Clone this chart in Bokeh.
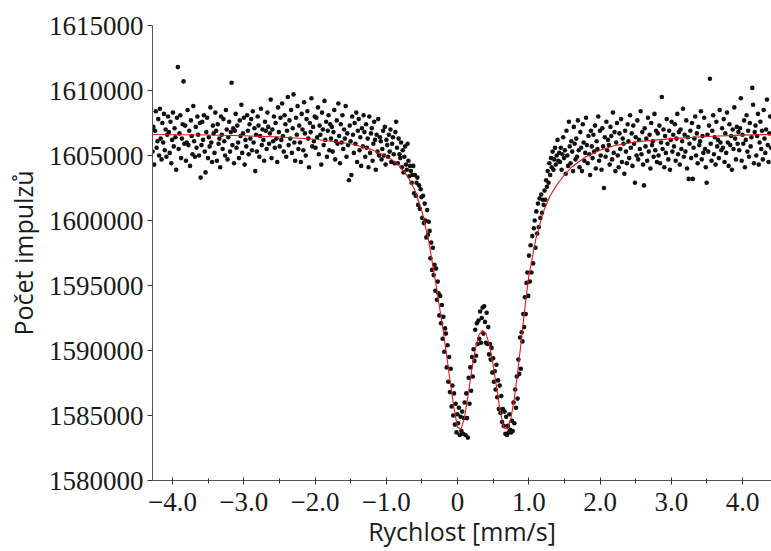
import numpy as np
from bokeh.plotting import figure
from bokeh.models import FixedTicker, Range1d
from bokeh.embed import file_html
from bokeh.resources import INLINE

# ---- data ----
velocity_first = -4.28
velocity_last = 4.40

counts = [
    1605300, 1607200, 1604300, 1606900, 1608400, 1605600, 1606100, 1607800, 1605000, 1608600, 1606300, 1604700, 1607500, 1606000, 1608200, 1605400, 1607000, 1604900, 1606600, 1608000,
    1606800, 1605200, 1607600, 1604400, 1606200, 1608300, 1605700, 1607100, 1606400, 1603900, 1607900, 1611800, 1605500, 1606700, 1608100, 1604800, 1606300, 1607400, 1610700, 1605900,
    1607300, 1604600, 1606000, 1608500, 1605800, 1606900, 1604200, 1607700, 1606500, 1605100, 1608800, 1606100, 1604900, 1607200, 1605600, 1608000, 1606600, 1605000, 1607500, 1603300,
    1605800, 1607600, 1606200, 1608100, 1605300, 1603700, 1606800, 1607900, 1604800, 1606400, 1605700, 1608700, 1606000, 1604500, 1607300, 1606700, 1605200, 1608300, 1606900, 1604600,
    1607400, 1605900, 1606300, 1604100, 1608000, 1606600, 1605500, 1607800, 1606100, 1605000, 1608500, 1607000, 1604700, 1606400, 1607600, 1605300, 1606800, 1610600, 1605800, 1607100,
    1604400, 1606900, 1608200, 1605600, 1607300, 1606000, 1604800, 1607700, 1606500, 1608900, 1605200, 1606700, 1607900, 1604300, 1606200, 1605700, 1608100, 1606900, 1605100, 1607400,
    1606300, 1607800, 1605400, 1608400, 1606000, 1607100, 1603800, 1606600, 1605300, 1608000, 1607300, 1604900, 1606500, 1608600, 1605800, 1607000, 1606200, 1604600, 1607600, 1606900,
    1605500, 1608300, 1607200, 1605900, 1606700, 1609300, 1604800, 1607000, 1606100, 1608000, 1605600, 1607500, 1606300, 1604500, 1608700, 1606800, 1605700, 1607900, 1606200, 1609000,
    1606500, 1605300, 1608100, 1607400, 1604900, 1606900, 1609500, 1605800, 1607700, 1606300, 1608500, 1605200, 1607100, 1609700, 1606000, 1604600, 1607900, 1606600, 1608800, 1605500,
    1607300, 1606000, 1604500, 1608200, 1607000, 1605400, 1609100, 1606700, 1605000, 1607800, 1608400, 1606300, 1604100, 1607500, 1606800, 1609400, 1605700, 1607200, 1606100, 1608000,
    1605600, 1607900, 1606400, 1608700, 1605100, 1607300, 1606600, 1604300, 1608300, 1607000, 1605800, 1609200, 1606200, 1607600, 1604900, 1606900, 1608100, 1605400, 1607400, 1606300,
    1607200, 1605300, 1606800, 1608500, 1604700, 1606100, 1607700, 1605900, 1609000, 1606500, 1604400, 1607400, 1606000, 1608100, 1605500, 1607000, 1606300, 1608800, 1604900, 1606700,
    1605800, 1603100, 1607300, 1606100, 1603500, 1608000, 1606600, 1605200, 1607500, 1605900, 1608300, 1604500, 1606900, 1607800, 1605400, 1606400, 1604200, 1607100, 1605700, 1608100,
    1606800, 1604900, 1607400, 1605600, 1606300, 1604100, 1608000, 1605200, 1606700, 1607100, 1604600, 1605900, 1607600, 1606200, 1603900, 1606600, 1605300, 1607800, 1605000, 1606400,
    1606100, 1604700, 1605500, 1606900, 1605000, 1607200, 1604300, 1606200, 1605800, 1604900, 1606600, 1605300, 1607000, 1604500, 1605900, 1606400, 1605100, 1604400, 1606800, 1607600,
    1605600, 1604400, 1606300, 1605100, 1604800, 1606000, 1604100, 1605400, 1603700, 1604900, 1605700, 1604300, 1603900, 1605900, 1604600, 1603400, 1604200, 1603800, 1602900, 1603500,
    1604200, 1602100, 1603500, 1601900, 1602900, 1603300, 1601200, 1602700, 1600900, 1602400, 1601800, 1600200, 1601900, 1599800, 1601300, 1600000, 1598700, 1600800, 1598900, 1599900,
    1599200, 1597100, 1598300, 1596200, 1597900, 1595800, 1596600, 1594600, 1596300, 1593900, 1595300, 1594400, 1592700, 1594200, 1592100, 1593500, 1590900, 1592600, 1589900, 1591700,
    1591300, 1588700, 1590400, 1587600, 1589500, 1586800, 1588600, 1585700, 1587300, 1585000, 1586700, 1584300, 1585900, 1583700, 1585100, 1584400, 1585600, 1583500, 1584900, 1583800,
    1585300, 1583600, 1584800, 1586000, 1583500, 1586700, 1584800, 1583300, 1587900, 1585900, 1588700, 1586900, 1589500, 1588000, 1590100, 1589200, 1591600, 1589600, 1592100, 1590500,
    1592300, 1590900, 1593000, 1590600, 1592500, 1593300, 1591300, 1593400, 1592200, 1590600, 1592900, 1590500, 1591800, 1589700, 1590500, 1589300, 1590200, 1588300, 1589400, 1587600,
    1588400, 1587000, 1588900, 1586400, 1587700, 1585500, 1587300, 1585200, 1586500, 1584500, 1585500, 1584200, 1585300, 1583600, 1584900, 1583500, 1584200, 1583700, 1585100, 1583900,
    1583700, 1584600, 1583800, 1586000, 1584400, 1587000, 1585600, 1588000, 1586300, 1589300, 1588200, 1591000, 1588600, 1591400, 1590700, 1592800, 1591800, 1594100, 1592800, 1595200,
    1596000, 1594200, 1597300, 1595300, 1598100, 1596000, 1598800, 1596700, 1599400, 1600000, 1597900, 1600700, 1599000, 1601300, 1599500, 1601700, 1600200, 1602000, 1600600, 1601600,
    1601200, 1602300, 1601600, 1603100, 1602600, 1603800, 1602900, 1604400, 1603500, 1604800, 1604100, 1605300, 1603900, 1604700, 1605600, 1604300, 1605000, 1606200, 1604600, 1605200,
    1604500, 1605600, 1603900, 1605100, 1606400, 1604800, 1605400, 1603600, 1606900, 1605000, 1604200, 1607600, 1605700, 1604400, 1606100, 1605300, 1603800, 1607200, 1605900, 1604700,
    1606300, 1604900, 1607700, 1605400, 1604100, 1606800, 1605600, 1603800, 1607400, 1606000, 1604600, 1605200, 1607900, 1605800, 1604400, 1606500, 1605100, 1603500, 1606900, 1605700,
    1604800, 1606600, 1605300, 1607300, 1604000, 1606100, 1605500, 1608000, 1604600, 1606900, 1605000, 1603900, 1607100, 1605700, 1602500, 1606400, 1604900, 1607600, 1605400, 1606200,
    1605800, 1604300, 1607200, 1606500, 1604700, 1608300, 1605200, 1606800, 1603800, 1606000, 1607500, 1605000, 1604100, 1606700, 1605500, 1607800, 1604500, 1606300, 1605900, 1603600,
    1606900, 1605300, 1604400, 1607400, 1606100, 1604800, 1608100, 1605600, 1606700, 1604200, 1607300, 1605900, 1602900, 1606400, 1605000, 1607700, 1604700, 1606200, 1605500, 1608400,
    1605100, 1606800, 1604300, 1602700, 1607100, 1605700, 1606300, 1604600, 1607900, 1605300, 1606600, 1604000, 1607500, 1605800, 1606100, 1604900, 1608200, 1605400, 1606900, 1604500,
    1606700, 1605000, 1607300, 1604400, 1606000, 1609500, 1605500, 1607000, 1604100, 1606500, 1605200, 1607800, 1605900, 1604700, 1606900, 1603900, 1606200, 1607600, 1605300, 1606600,
    1605700, 1607400, 1604600, 1606300, 1608200, 1605100, 1606800, 1604300, 1607000, 1605500, 1606100, 1608600, 1604900, 1606600, 1605300, 1607700, 1604000, 1606400, 1603200, 1605900,
    1606900, 1604800, 1607500, 1603200, 1605600, 1606300, 1608000, 1605000, 1606700, 1604400, 1607200, 1605800, 1606100, 1608400, 1604700, 1606500, 1605200, 1607900, 1605500, 1604100,
    1602900, 1606600, 1605300, 1607300, 1610900, 1605900, 1604600, 1606900, 1608100, 1605100, 1606400, 1604300, 1607600, 1605700, 1606200, 1604800, 1608500, 1606000, 1605400, 1607100,
    1605600, 1607800, 1604500, 1606700, 1605200, 1608300, 1606000, 1604200, 1607400, 1605800, 1606500, 1603900, 1607000, 1605500, 1608700, 1606300, 1604700, 1607200, 1605900, 1606800,
    1605400, 1607100, 1609400, 1604600, 1606600, 1605900, 1607700, 1604100, 1606200, 1608100, 1605300, 1606900, 1604900, 1607500, 1605700, 1606400, 1610200, 1608900, 1604400, 1606800,
    1607300, 1605000, 1606500, 1608200, 1604300, 1606000, 1607600, 1605500, 1606900, 1604700, 1608500, 1606300, 1605200, 1607000, 1609300, 1605800, 1604500, 1606700, 1608000, 1605600,
]

fit_velocity = [-4.3, -3.5, -3.0, -2.5, -2.0, -1.5, -1.2, -1.0, -0.9, -0.8, -0.7, -0.6, -0.5, -0.4,
                -0.3, -0.2, -0.15, -0.1, -0.05, 0.0, 0.05, 0.1, 0.15, 0.2, 0.25, 0.3, 0.35, 0.4,
                0.45, 0.5, 0.55, 0.6, 0.65, 0.7, 0.75, 0.8, 0.85, 0.9, 0.95, 1.0, 1.1, 1.2, 1.3,
                1.4, 1.5, 1.6, 1.8, 2.0, 2.2, 2.5, 3.0, 3.5, 4.0, 4.4]
fit_counts = [1606620, 1606580, 1606520, 1606420, 1606250, 1605900, 1605450, 1604950, 1604600,
              1604100, 1603400, 1602350, 1600700, 1598300, 1595000, 1591500, 1589500, 1587500,
              1585600, 1584100, 1583950, 1584900, 1586600, 1588500, 1590100, 1591200, 1591550,
              1591300, 1590400, 1588900, 1587100, 1585300, 1584050, 1583950, 1584800, 1586400,
              1588600, 1591000, 1593500, 1595700, 1598600, 1600600, 1601900, 1602800, 1603500,
              1604100, 1604900, 1605400, 1605750, 1606050, 1606300, 1606460, 1606570, 1606620]

x_ticks = [-4, -3, -2, -1, 0, 1, 2, 3, 4]
x_tick_labels = ["\u22124.0", "\u22123.0", "\u22122.0", "\u22121.0", "0", "1.0", "2.0", "3.0", "4.0"]
x_minor_ticks = [-3.5, -2.5, -1.5, -0.5, 0.5, 1.5, 2.5, 3.5]
y_ticks = [1580000, 1585000, 1590000, 1595000, 1600000, 1605000, 1610000, 1615000]
y_tick_labels = ["1580000", "1585000", "1590000", "1595000", "1600000", "1605000", "1610000", "1615000"]

x_label = "Rychlost [mm/s]"
y_label = "Počet impulzů"

# channel velocities are evenly spaced
velocity = np.linspace(velocity_first, velocity_last, len(counts))

p = figure(width=771, height=551, output_backend="svg", toolbar_location=None,
           x_range=Range1d(-4.281, 4.407), y_range=Range1d(1580000, 1615000),
           min_border_left=152, min_border_right=0, min_border_top=25, min_border_bottom=71)
p.grid.visible = False
p.outline_line_color = None
p.background_fill_color = "white"
p.border_fill_color = "white"

p.scatter(velocity, counts, size=4.6, fill_color="#111111", line_color=None)
p.line(fit_velocity, fit_counts, line_color="#dd1a1a", line_width=1.1)

xa = p.xaxis[0]
xa.ticker = FixedTicker(ticks=x_ticks, minor_ticks=x_minor_ticks)
xa.major_label_overrides = dict(zip(x_ticks, x_tick_labels))
xa.axis_label = x_label
ya = p.yaxis[0]
ya.ticker = FixedTicker(ticks=y_ticks)
ya.major_label_overrides = dict(zip(y_ticks, y_tick_labels))
ya.axis_label = y_label

for ax in (xa, ya):
    ax.axis_line_color = "#555555"
    ax.axis_line_width = 1
    ax.major_tick_line_color = "#333333"
    ax.minor_tick_line_color = "#333333"
    ax.major_label_text_font = "Liberation Serif"
    ax.major_label_text_font_size = "27px"
    ax.major_label_text_color = "#1a1a1a"
    ax.axis_label_text_font = "Open Sans"
    ax.axis_label_text_font_size = "25px"
    ax.axis_label_text_font_style = "normal"
    ax.axis_label_text_color = "#1a1a1a"

xa.major_tick_in = 3
xa.major_tick_out = 4
xa.minor_tick_in = 2
xa.minor_tick_out = 3
xa.major_label_standoff = 8
xa.axis_label_standoff = 0

ya.major_tick_in = 0
ya.major_tick_out = 5
ya.minor_tick_line_color = None
ya.major_label_standoff = 4
ya.axis_label_standoff = 6

open("out.html", "w").write(file_html(p, INLINE))
